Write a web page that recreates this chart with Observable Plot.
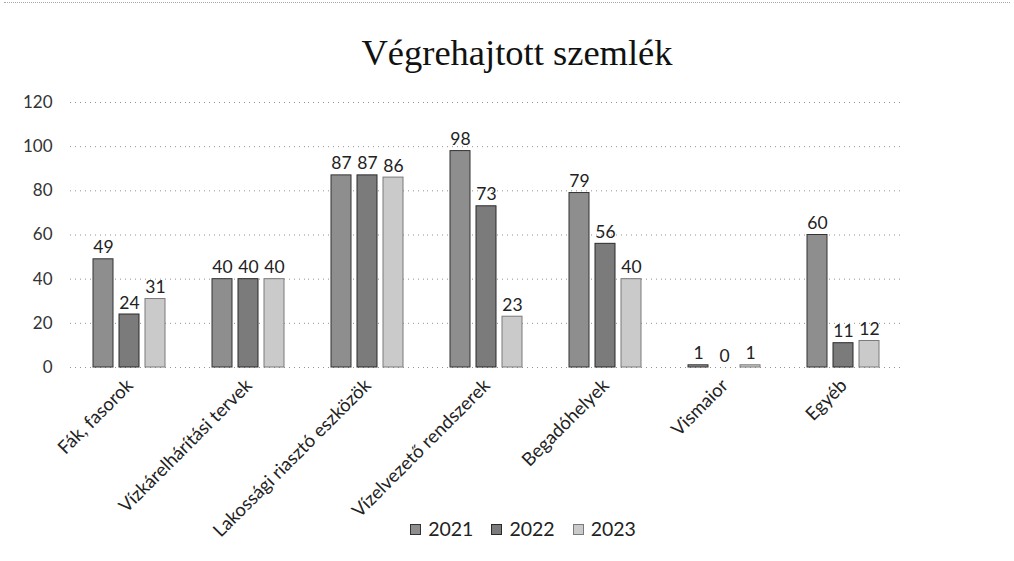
<!DOCTYPE html>
<html>
<head>
<meta charset="utf-8">
<script src="https://cdn.jsdelivr.net/npm/d3@7"></script>
<script src="https://cdn.jsdelivr.net/npm/@observablehq/plot@0.6"></script>
<style>
  html, body { margin: 0; padding: 0; background: #fff; }
  #wrap { position: relative; width: 1014px; height: 561px; overflow: hidden; }
  #topline { position: absolute; left: 4px; right: 4px; top: 2px; border-top: 1px dotted #aaa; }
  #title { position: absolute; left: 10px; width: 1014px; top: 32px; text-align: center;
           font-family: "Liberation Serif", "DejaVu Serif", serif; font-size: 36.5px; color: #111; line-height: 42px; }
  #chart { position: absolute; left: 0; top: 80px; }
  #legend { position: absolute; top: 517px; left: 16px; width: 1014px; text-align: center;
            font-family: Lato, "Open Sans", sans-serif; font-size: 19.5px; color: #222; }
  #legend span.item { display: inline-block; margin: 0 9px; }
  #legend span.sw { display: inline-block; width: 9px; height: 9px; margin-right: 7px; vertical-align: 1px; }
</style>
</head>
<body>
<div id="wrap">
  <div id="topline"></div>
  <div id="title">Végrehajtott szemlék</div>
  <div id="chart"></div>
  <div id="legend"></div>
</div>
<script>
const categories = ["Fák, fasorok", "Vízkárelhárítási tervek", "Lakossági riasztó eszközök", "Vízelvezető rendszerek", "Begadóhelyek", "Vismaior", "Egyéb"];
const years = ["2021", "2022", "2023"];
const values2021 = [49, 40, 87, 98, 79, 1, 60];
const values2022 = [24, 40, 87, 73, 56, 0, 11];
const values2023 = [31, 40, 86, 23, 40, 1, 12];
const yTicks = [0, 20, 40, 60, 80, 100, 120];
const fills = ["#8e8e8e", "#7b7b7b", "#cacaca"];
const strokes = ["#333333", "#2a2a2a", "#7a7a7a"];

const series = [values2021, values2022, values2023];
const data = [];
categories.forEach((c, i) => years.forEach((y, j) => data.push({category: c, year: y, value: series[j][i]})));

const chart = Plot.plot({
  width: 1014,
  height: 481,
  marginLeft: 70,
  marginRight: 111,
  marginTop: 22,
  marginBottom: 194,
  style: {fontFamily: "Lato, 'Open Sans', sans-serif", background: "transparent"},
  fx: {domain: categories, padding: 0, label: null},
  x: {domain: years, paddingInner: 0.23, paddingOuter: 0.9, axis: null},
  y: {domain: [0, 120], ticks: yTicks, label: null},
  color: {domain: years, range: fills},
  marks: [
    Plot.gridY(yTicks, {stroke: "#777", strokeOpacity: 0.8, strokeDasharray: "1,4"}),
    Plot.axisY(yTicks, {tickSize: 0, tickPadding: 18, fontSize: 17, color: "#333", label: null}),
    Plot.axisFx({anchor: "bottom", tickRotate: -45, tickSize: 0, tickPadding: 15, fontSize: 18.5, color: "#222", label: null}),
    Plot.barY(data, {fx: "category", x: "year", y: "value", fill: "year",
      stroke: d => strokes[years.indexOf(d.year)], strokeWidth: 1}),
    Plot.text(data, {fx: "category", x: "year", y: "value", text: d => String(d.value),
      lineAnchor: "bottom", dy: -6, fontSize: 17.5, fill: "#222"})
  ]
});
document.getElementById("chart").appendChild(chart);

const legend = document.getElementById("legend");
years.forEach((y, j) => {
  const item = document.createElement("span");
  item.className = "item";
  item.innerHTML = `<span class="sw" style="background:${fills[j]};border:1px solid ${strokes[j]}"></span>${y}`;
  legend.appendChild(item);
});
</script>
</body>
</html>
